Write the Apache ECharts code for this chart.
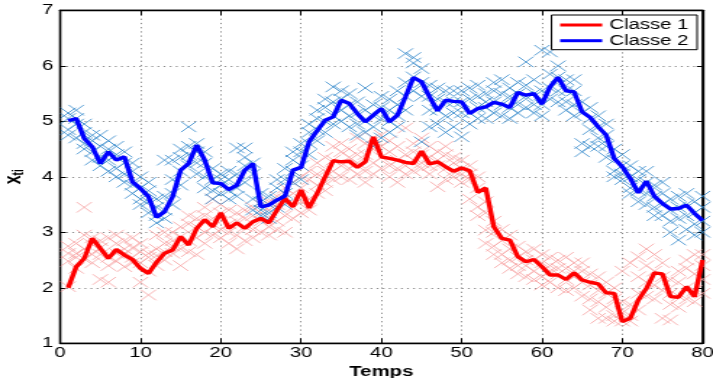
<!DOCTYPE html>
<html>
<head>
<meta charset="utf-8">
<script src="https://cdn.jsdelivr.net/npm/echarts@6/dist/echarts.min.js"></script>
<style>
html,body{margin:0;padding:0;background:#fff;overflow:hidden;}
#main{width:492px;height:378px;transform:scaleX(1.44919);transform-origin:0 0;}
</style>
</head>
<body>
<div id="main"></div>
<script>
// time axis
const timeStart = 1;
const xMin = 0, xMax = 80, xStep = 10;
const yMin = 1, yMax = 7, yStep = 1;
const seriesNames = ['Classe 1', 'Classe 2'];

// estimated state (lines), t = 1..80
const classe1 = [
  2.00, 2.38, 2.53, 2.89, 2.71, 2.53, 2.69, 2.59, 2.51, 2.35,
  2.26, 2.46, 2.62, 2.68, 2.92, 2.77, 3.07, 3.23, 3.10, 3.35,
  3.07, 3.17, 3.07, 3.19, 3.25, 3.17, 3.40, 3.61, 3.46, 3.76,
  3.44, 3.70, 4.00, 4.29, 4.27, 4.28, 4.17, 4.27, 4.72, 4.36,
  4.33, 4.30, 4.26, 4.24, 4.46, 4.23, 4.27, 4.18, 4.10, 4.16,
  4.11, 3.72, 3.80, 3.10, 2.89, 2.86, 2.56, 2.47, 2.51, 2.38,
  2.23, 2.23, 2.15, 2.27, 2.14, 2.10, 2.07, 1.91, 1.90, 1.39,
  1.45, 1.78, 1.99, 2.27, 2.25, 1.84, 1.83, 2.02, 1.84, 2.50
];
const classe2 = [
  5.01, 5.05, 4.69, 4.54, 4.24, 4.45, 4.30, 4.36, 3.91, 3.79,
  3.64, 3.27, 3.37, 3.64, 4.12, 4.24, 4.57, 4.30, 3.89, 3.88,
  3.77, 3.85, 4.12, 4.24, 3.46, 3.49, 3.58, 3.65, 4.12, 4.17,
  4.63, 4.83, 5.02, 5.08, 5.38, 5.32, 5.14, 4.99, 5.11, 5.23,
  4.99, 5.11, 5.44, 5.79, 5.71, 5.44, 5.19, 5.38, 5.36, 5.35,
  5.14, 5.23, 5.26, 5.34, 5.31, 5.25, 5.52, 5.47, 5.50, 5.31,
  5.62, 5.79, 5.55, 5.53, 5.17, 5.07, 4.90, 4.75, 4.33, 4.18,
  3.97, 3.71, 3.92, 3.65, 3.52, 3.42, 3.43, 3.49, 3.34, 3.21
];

// observations (crosses), 4 per time step, t = 1..80
const obs1 = [
  [2.62,2.48,2.02,2.75],[2.55,2.80,2.35,2.62],[3.45,2.70,2.52,2.95],[2.90,2.60,2.78,2.45],[2.15,2.85,2.60,2.72],
  [2.10,2.55,2.90,2.40],[2.80,2.62,2.48,2.95],[2.85,2.70,2.38,2.60],[2.55,2.90,2.45,2.72],[2.10,2.45,2.65,2.80],
  [1.87,2.30,2.55,2.62],[2.40,2.70,2.95,2.58],[2.65,2.80,2.50,3.00],[2.75,3.00,2.62,2.85],[2.92,3.10,2.70,2.40],
  [2.85,3.15,2.65,3.30],[3.10,3.25,2.90,2.60],[3.30,3.00,3.45,2.80],[3.25,3.60,2.95,3.10],[3.35,3.05,3.50,2.90],
  [3.15,2.80,3.40,3.00],[3.20,2.95,3.35,2.70],[3.10,3.40,2.85,3.25],[3.30,3.05,3.45,2.90],[3.20,3.50,3.00,3.35],
  [3.40,3.10,2.95,3.55],[3.50,3.20,3.65,3.05],[3.60,3.30,3.80,3.00],[3.45,3.70,3.25,3.90],[3.80,3.55,4.00,3.35],
  [3.60,3.95,3.40,4.10],[3.85,4.05,3.70,4.25],[4.10,3.90,4.35,3.75],[4.30,4.10,4.55,3.95],[4.20,4.45,4.00,4.60],
  [4.35,4.15,4.50,3.95],[4.25,4.05,4.40,4.70],[4.40,4.10,4.60,3.90],[4.50,4.25,4.70,4.05],[4.35,4.55,4.15,4.75],
  [4.45,4.20,4.65,4.00],[4.30,3.90,4.55,4.15],[4.40,4.88,4.20,4.05],[4.30,4.60,4.10,4.45],[4.40,4.15,4.70,4.25],
  [4.35,4.05,4.55,4.20],[4.20,3.82,4.45,4.30],[4.15,4.40,3.95,4.55],[4.25,4.00,4.35,4.10],[4.05,4.30,3.90,4.15],
  [3.95,4.20,3.60,4.05],[3.46,3.80,3.30,4.00],[3.04,3.35,2.80,3.55],[3.00,2.75,3.20,2.60],[2.85,2.60,3.05,2.45],
  [2.70,2.50,2.95,2.35],[2.55,2.40,2.75,2.25],[2.40,2.65,2.20,2.50],[2.50,2.30,2.70,2.15],[2.45,2.20,2.60,2.05],
  [2.30,2.10,2.55,2.40],[2.25,2.50,2.00,2.35],[2.15,2.35,1.95,2.55],[2.20,2.45,2.00,2.30],[2.10,1.85,2.30,2.45],
  [2.05,1.80,2.25,1.60],[1.95,2.20,1.75,1.45],[1.90,2.10,1.65,1.45],[1.80,1.50,2.00,1.40],[1.55,1.40,1.75,2.30],
  [1.50,1.70,2.45,1.40],[1.90,2.56,1.60,2.20],[2.10,2.70,1.85,2.40],[2.30,2.05,2.60,1.80],[2.20,1.95,2.45,1.45],
  [1.90,1.42,2.15,1.70],[1.85,2.10,1.65,2.30],[2.00,2.35,1.80,2.50],[1.95,2.60,1.75,2.25],[2.40,2.60,2.15,1.90]
];
const obs2 = [
  [5.15,4.85,5.05,4.75],[5.20,4.95,4.70,5.05],[4.80,4.60,4.95,4.50],[4.65,4.45,4.30,4.75],[4.75,4.35,4.20,4.55],
  [4.30,4.50,4.10,4.65],[4.40,4.15,4.00,4.55],[4.25,4.05,4.45,3.90],[4.10,3.85,4.25,3.70],[3.80,3.60,4.00,3.50],
  [3.55,3.75,3.35,3.90],[3.17,3.45,3.60,3.30],[3.40,3.65,3.25,4.30],[4.30,3.70,3.95,3.50],[4.35,4.10,4.50,3.85],
  [4.90,4.40,4.20,4.55],[4.45,4.60,4.25,4.05],[4.25,4.00,4.45,3.80],[3.95,3.75,4.15,3.60],[3.85,4.05,3.70,3.95],
  [3.75,3.95,3.60,4.10],[4.52,3.80,4.05,3.65],[4.52,4.20,3.90,4.35],[4.25,4.05,3.40,3.60],[3.40,3.55,3.30,3.70],
  [3.50,3.35,3.65,3.25],[3.60,3.80,3.45,3.95],[3.70,3.95,3.50,4.15],[4.10,4.30,3.90,4.45],[4.20,4.45,3.95,4.60],
  [4.60,4.80,4.40,4.95],[4.85,5.05,4.65,5.20],[5.00,5.25,4.80,5.40],[5.10,5.62,4.95,5.35],[5.40,5.20,5.55,5.00],
  [5.30,5.10,5.50,4.90],[5.15,5.35,4.95,4.75],[5.00,5.60,5.20,4.80],[5.10,5.30,4.90,4.55],[5.25,5.45,5.05,4.70],
  [5.00,5.20,4.80,5.40],[5.10,5.55,4.90,5.30],[5.45,6.22,5.70,5.20],[5.80,6.05,5.55,6.15],[5.70,5.45,5.95,4.63],
  [5.45,5.20,5.65,4.90],[5.20,5.40,4.95,5.60],[5.35,5.55,5.10,4.80],[5.35,5.15,5.55,4.90],[5.35,4.72,5.55,5.15],
  [5.15,5.40,4.95,5.60],[5.25,5.05,5.45,5.65],[5.25,5.50,5.05,5.35],[5.35,5.15,5.55,5.70],[5.30,5.50,5.10,5.75],
  [5.25,5.45,5.05,5.60],[5.50,5.30,5.70,5.15],[5.45,6.07,5.65,5.25],[5.50,5.30,5.75,5.15],[5.30,5.55,5.10,6.28],
  [5.60,5.85,5.40,6.25],[5.80,5.55,6.00,5.35],[5.55,5.75,5.35,5.20],[5.55,5.30,5.75,5.10],[5.15,4.60,4.45,5.35],
  [5.05,4.85,4.55,5.25],[4.90,4.70,5.10,4.55],[4.75,4.55,4.95,4.35],[4.30,4.10,4.50,4.00],[4.20,3.95,4.40,4.05],
  [4.00,3.80,4.20,3.70],[3.75,3.95,3.55,4.10],[3.90,3.70,4.10,3.50],[3.65,3.45,3.85,3.30],[3.50,3.70,3.30,3.90],
  [3.40,3.20,3.60,3.00],[3.45,2.86,3.65,3.25],[3.50,3.30,3.70,3.05],[3.35,3.55,3.15,2.95],[3.20,3.45,3.00,3.65]
];

const FONT = 'Liberation Sans, Arial, Helvetica, sans-serif';
const lineData = arr => arr.map((v, i) => [timeStart + i, v]);
const obsData = arr => arr.flatMap((g, i) => g.map(v => [timeStart + i, v]));
const cross = 'path://M0,0L10,10M0,10L10,0';

const gridLine = () => ({ show: true, lineStyle: { color: '#8a8a8a', width: 1, type: [1.2, 3] } });
const frameLine = () => ({ show: true, onZero: false, lineStyle: { color: '#000', width: 1.3, type: 'solid' } });
const tick = len => ({ show: true, inside: true, length: len, lineStyle: { color: '#000', width: 1, type: 'solid' } });

const chart = echarts.init(document.getElementById('main'), null, { renderer: 'canvas' });
chart.setOption({
  animation: false,
  backgroundColor: '#fff',
  grid: {
    left: 41.5, right: 7.2, top: 10.3, bottom: 34.7,
    containLabel: false, outerBoundsMode: 'none',
    show: true, borderColor: '#000', borderWidth: 1.3, backgroundColor: 'transparent'
  },
  legend: {
    data: seriesNames,
    orient: 'vertical',
    right: 11, top: 15,
    backgroundColor: '#fff',
    borderColor: '#000', borderWidth: 1, borderRadius: 0,
    padding: [3, 6, 2, 6],
    itemGap: 1.7,
    itemWidth: 29, itemHeight: 3,
    icon: 'rect',
    textStyle: { fontSize: 14, lineHeight: 14, color: '#000', fontFamily: FONT }
  },
  xAxis: [
    {
      type: 'value', min: xMin, max: xMax, interval: xStep, position: 'bottom',
      axisLine: frameLine(),
      axisTick: tick(5),
      axisLabel: { margin: 3, fontSize: 14, color: '#000', fontFamily: FONT },
      splitLine: gridLine(),
      name: 'Temps', nameLocation: 'middle', nameGap: 17,
      nameTextStyle: { fontSize: 14, fontWeight: 'bold', color: '#000', fontFamily: FONT }
    },
    {
      type: 'value', min: xMin, max: xMax, interval: xStep, position: 'top',
      axisLine: frameLine(),
      axisTick: tick(5),
      axisLabel: { show: false }, splitLine: { show: false }
    }
  ],
  yAxis: [
    {
      type: 'value', min: yMin, max: yMax, interval: yStep, position: 'left',
      axisLine: frameLine(),
      axisTick: tick(4),
      axisLabel: { margin: 4.8, fontSize: 14, color: '#000', fontFamily: FONT },
      splitLine: gridLine(),
      name: '{a|x}{b|ti}', nameLocation: 'middle', nameGap: 15, nameRotate: 90,
      nameTextStyle: {
        color: '#000', fontFamily: FONT,
        rich: {
          a: { fontSize: 16, fontWeight: 'bold', lineHeight: 16, verticalAlign: 'top', fontFamily: FONT, color: '#000' },
          b: { fontSize: 10, fontWeight: 'bold', lineHeight: 10, verticalAlign: 'bottom', padding: [9, 0, 0, 0], fontFamily: FONT, color: '#000' }
        }
      }
    },
    {
      type: 'value', min: yMin, max: yMax, interval: yStep, position: 'right',
      axisLine: frameLine(),
      axisTick: tick(4),
      axisLabel: { show: false }, splitLine: { show: false }
    }
  ],
  series: [
    {
      type: 'scatter', silent: true, z: 2,
      data: obsData(obs1),
      symbol: cross, symbolSize: 10.5,
      itemStyle: { color: 'none', borderColor: '#f7a3a3', borderWidth: 1 }
    },
    {
      type: 'scatter', silent: true, z: 3,
      data: obsData(obs2),
      symbol: cross, symbolSize: 10.5,
      itemStyle: { color: 'none', borderColor: '#3589cc', borderWidth: 1 }
    },
    {
      name: seriesNames[0], type: 'line', z: 5,
      data: lineData(classe1),
      symbol: 'none', showSymbol: false,
      lineStyle: { color: '#ff0000', width: 3.4 },
      itemStyle: { color: '#ff0000' }
    },
    {
      name: seriesNames[1], type: 'line', z: 6,
      data: lineData(classe2),
      symbol: 'none', showSymbol: false,
      lineStyle: { color: '#0000ff', width: 3.4 },
      itemStyle: { color: '#0000ff' }
    }
  ]
});
</script>
</body>
</html>
